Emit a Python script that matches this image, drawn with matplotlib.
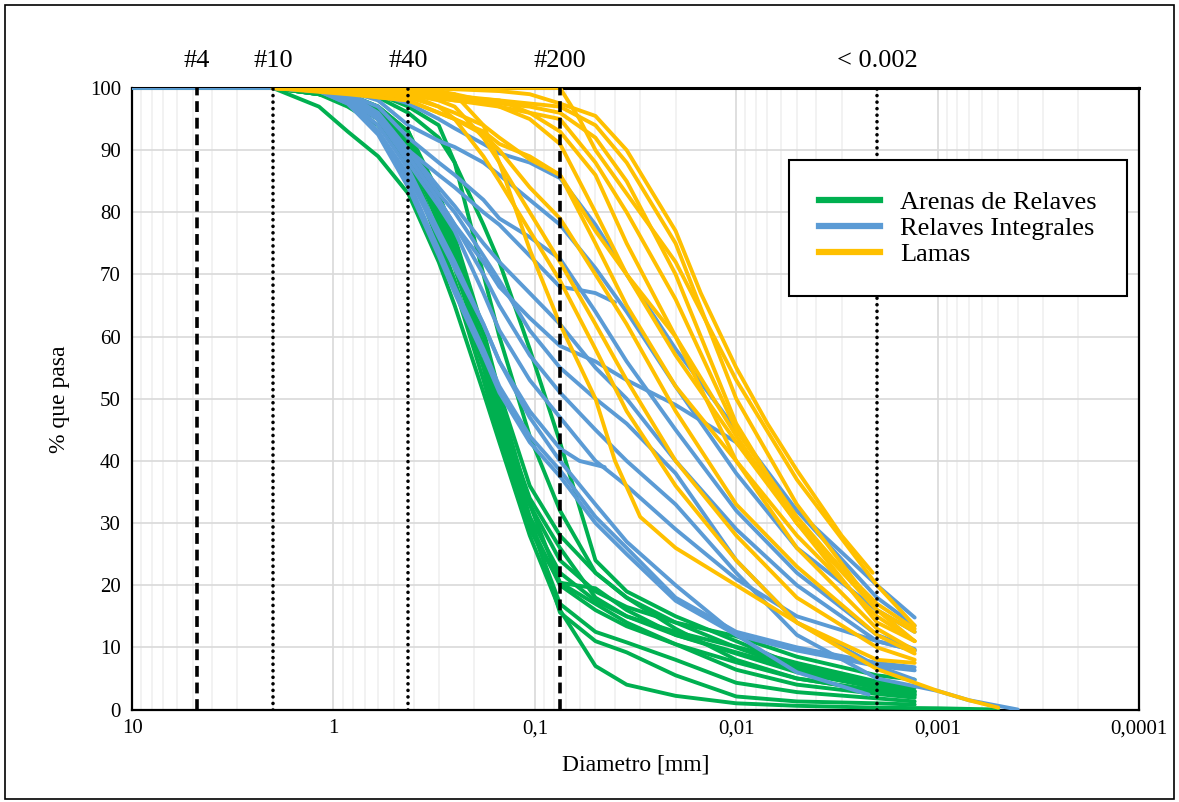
import numpy as np
import matplotlib.pyplot as plt
from matplotlib.patches import Rectangle
from matplotlib.ticker import FixedLocator, LogLocator, NullFormatter

plt.rcParams['font.family'] = ['Liberation Serif', 'DejaVu Serif']

# tamices / hidrometro (mm)
D = [2.0, 1.18, 0.85, 0.6, 0.425, 0.3, 0.25, 0.18, 0.15, 0.106, 0.075,
     0.05, 0.035, 0.02, 0.01, 0.005, 0.002, 0.0013]

# Arenas de relaves
arenas = [
    ([10, 4.75, 2.0, 1.18, 0.85, 0.6, 0.425, 0.3, 0.25, 0.18, 0.15, 0.106, 0.075,
      0.05, 0.035, 0.02, 0.01, 0.005, 0.002, 0.001, 0.0005],
     [100, 100, 100, 97, 93, 89, 83, 72, 65, 51, 43, 28, 16, 7, 4, 2.2, 1, 0.6, 0.3, 0.2, 0]),
    (D, [100, 99, 98, 95, 90, 78, 71, 57, 47, 33, 24, 19, 16.5, 14, 11.8, 8.5, 5.5, 4.8]),
    (D, [100, 99, 98, 95, 89, 76, 69, 55, 45, 31, 22, 17.5, 15, 12.5, 10.1, 7.5, 4.5, 3.5]),
    (D, [100, 99.5, 98.5, 96, 91, 79, 72, 58, 48, 34, 26, 18, 15, 12, 9.2, 6.5, 3.5, 2.9]),
    (D, [100, 99, 97, 94, 88, 75, 68, 53, 44, 30, 20, 16, 13.4, 10.5, 7.6, 5, 3, 2.4]),
    (D, [100, 99.5, 99, 97, 93, 82, 75, 60, 50, 33, 20.4, 17, 14, 10.5, 6.4, 4, 2.5, 1.9]),
    (D, [100, 99, 98, 96, 91, 80, 73, 57, 47, 30, 17, 12.5, 10.8, 8, 4.3, 2.8, 1.8, 1.3]),
    (D, [100, 99.5, 98.5, 96.5, 92, 81, 74, 58, 48, 31, 15.6, 11, 9.2, 5.5, 2.1, 1.3, 1, 0.8]),
    (D, [100, 99, 98, 96, 92, 80, 73, 57, 46, 29, 20.4, 19.5, 16, 12, 9, 6, 3.5, 2.5]),
    (D, [100, 100, 99.5, 98.5, 96, 92, 88, 78, 72, 58, 43, 24, 19, 15, 11, 7, 4, 3]),
    (D, [100, 100, 100, 99, 97, 94, 88, 70, 60, 44, 32, 22, 18, 14, 10, 6.5, 3.6, 2.8]),
    (D, [100, 99.5, 99, 97, 93, 83, 76, 61, 51, 36, 28, 22, 18, 13, 8, 5, 3, 2.2]),
]

# Relaves integrales
integrales = [
    (D, [100, 100, 99.5, 99, 97.5, 95, 93.5, 91, 89.5, 88, 85.5, 78, 70, 58, 45, 32, 20, 14.8]),
    (D, [100, 100, 99.5, 98, 94, 91.5, 90.5, 88, 86, 82, 78, 71, 64, 52, 38, 26, 16, 12.5]),
    (D, [100, 99.8, 99, 97, 92, 88, 86, 82, 79, 76, 72.5, 64, 56, 45, 32, 22, 12, 9.7]),
    ([2.0, 1.18, 0.85, 0.6, 0.425, 0.3, 0.25, 0.18, 0.15, 0.106, 0.075, 0.06, 0.05, 0.04],
     [100, 99.8, 99, 96, 90, 86, 84, 80, 78, 73, 68, 67.5, 67, 65.5]),
    (D, [100, 99.5, 98.5, 95.5, 90, 84, 81, 75, 72, 67, 62, 55, 50, 40, 29, 20, 11, 9.5]),
    (D, [100, 99.5, 98.5, 95, 89, 82, 78, 72, 68, 63, 58.5, 56, 53, 49, 43, 32, 18, 13.5]),
    (D, [100, 99.5, 98, 95, 88, 81, 77, 67, 61, 53, 47, 40, 36, 29, 21, 15, 11, 9.5]),
    ([2.0, 1.18, 0.85, 0.6, 0.425, 0.3, 0.25, 0.18, 0.15, 0.106, 0.075, 0.06, 0.045],
     [100, 99.5, 98, 94, 87, 77, 72, 62, 56, 48, 42, 40, 39]),
    (D, [100, 99.5, 97.5, 93, 85, 74, 68, 58, 52, 44, 38.5, 31, 26, 18, 12.5, 10, 7.5, 6.8]),
    (D, [100, 99.5, 97.5, 92.5, 84, 73, 67, 57, 51, 43, 37.5, 30, 25, 17.5, 12, 9.5, 7, 6.3]),
    (D, [100, 99.5, 98.5, 95, 90, 83, 80, 73, 69, 61, 55, 50, 46, 38, 24, 14, 7, 4.8]),
    ([10, 4.75, 2.0, 1.18, 0.85, 0.6, 0.425, 0.3, 0.25, 0.18, 0.15, 0.106, 0.075,
      0.05, 0.035, 0.02, 0.01, 0.005, 0.002, 0.001, 0.0007, 0.0004],
     [100, 100, 100, 99.5, 98.5, 95, 89, 82, 78, 70, 65, 57, 51, 45, 40, 33, 22, 12, 5, 3, 1.5, 0]),
    ([2.0, 1.18, 0.85, 0.6, 0.425, 0.3, 0.25, 0.18, 0.15, 0.106, 0.075,
      0.05, 0.035, 0.02, 0.01, 0.005, 0.0022],
     [100, 99.5, 98, 93, 86, 76, 71, 62, 56, 47, 40, 33, 27, 20, 12, 6, 2.4]),
]

# Lamas
lamas = [
    ([2.0, 0.85, 0.425, 0.25, 0.15, 0.106, 0.075, 0.05, 0.035, 0.02, 0.015, 0.01, 0.007, 0.005, 0.003, 0.0021],
     [100, 100, 100, 99.8, 99.5, 99, 97.5, 95.5, 90, 77, 67, 55, 46, 38.5, 28, 22]),
    ([2.0, 0.85, 0.425, 0.25, 0.15, 0.106, 0.075, 0.06, 0.05, 0.035, 0.02, 0.01, 0.005, 0.002, 0.0013],
     [100, 100, 100, 100, 100, 100, 100, 95, 90, 83, 72, 53, 37, 20, 13.5]),
    ([2.0, 0.85, 0.425, 0.25, 0.15, 0.106, 0.075, 0.05, 0.035, 0.02, 0.01, 0.005, 0.002, 0.0013],
     [100, 99.5, 99, 98.5, 98, 97.5, 97, 94, 88, 75, 50, 33, 16, 11]),
    ([2.0, 0.85, 0.425, 0.25, 0.15, 0.106, 0.075, 0.05, 0.035, 0.02, 0.01, 0.005, 0.002, 0.0013],
     [100, 99.5, 99, 98, 97.5, 97, 96, 92, 85, 70, 46, 30, 14, 11]),
    ([2.0, 0.425, 0.25, 0.18, 0.15, 0.106, 0.075, 0.05, 0.035, 0.02, 0.01, 0.005, 0.002, 0.0013],
     [100, 99.5, 99, 98, 97, 95, 91, 80, 70, 57, 43, 30, 16, 12.5]),
    ([2.0, 0.85, 0.425, 0.3, 0.25, 0.18, 0.15, 0.106, 0.075, 0.05, 0.035, 0.02, 0.01, 0.005, 0.002, 0.0013],
     [100, 99, 98, 96, 95, 93, 91, 89, 86, 75, 65, 52, 40, 28, 15, 11]),
    ([2.0, 0.85, 0.6, 0.425, 0.3, 0.25, 0.18, 0.15, 0.106, 0.075, 0.05, 0.035, 0.02, 0.01, 0.005, 0.002, 0.0013],
     [100, 99.5, 99, 98.5, 97, 96, 94, 92, 88.5, 86, 77, 70, 60, 44, 30, 17, 13]),
    ([2.0, 0.85, 0.6, 0.425, 0.3, 0.25, 0.18, 0.15, 0.106, 0.075, 0.05, 0.035, 0.02, 0.01, 0.005, 0.002, 0.0013],
     [100, 99.5, 98.5, 98, 96, 95, 92.5, 90, 84, 79, 70, 62, 48, 33, 23, 12, 9]),
    ([2.0, 0.425, 0.3, 0.25, 0.18, 0.15, 0.106, 0.075, 0.05, 0.04, 0.03, 0.02, 0.01, 0.005, 0.002, 0.0013],
     [100, 100, 99.5, 99, 94, 88, 74, 62, 50, 40, 31, 26, 20, 14, 8, 7.5]),
    ([2.0, 0.85, 0.425, 0.3, 0.25, 0.18, 0.15, 0.106, 0.075, 0.05, 0.035, 0.02, 0.01, 0.005, 0.002, 0.0013],
     [100, 99.5, 99, 98, 97, 92, 88, 80, 72, 62, 53, 40, 28, 18, 10, 8]),
    ([2.0, 0.425, 0.3, 0.25, 0.18, 0.15, 0.106, 0.075, 0.05, 0.035, 0.02, 0.01, 0.005, 0.002, 0.001, 0.0007, 0.0005],
     [100, 99, 97, 95, 89, 85, 77, 69, 58, 48, 36, 24, 14, 6.5, 3, 1.5, 0.3]),
    ([2.0, 0.425, 0.25, 0.15, 0.106, 0.075, 0.05, 0.035, 0.02, 0.01, 0.005, 0.0024],
     [100, 99, 98, 97, 96, 95, 88, 80, 66, 45, 31, 19]),
    ([2.0, 0.85, 0.425, 0.3, 0.15, 0.106, 0.075, 0.05, 0.035, 0.02, 0.01, 0.005, 0.002, 0.0013],
     [100, 99.8, 99.5, 99, 98, 96, 93, 86, 75, 60, 40, 26, 13, 9.5]),
]

mallas = ['#4', '#10', '#40', '#200', '< 0.002']
malla_d = [4.75, 2.0, 0.425, 0.075, 0.002]
malla_estilo = ['dashed', 'dotted', 'dotted', 'dashed', 'dotted']

verde = '#00B050'
azul = '#5B9BD5'
amarillo = '#FFC000'

fig = plt.figure(figsize=(11.79, 8.02), dpi=100)
ax = fig.add_axes([0.112, 0.1153, 0.8541, 0.775])

for grupo, col in [(arenas, verde), (integrales, azul), (lamas, amarillo)]:
    for d, p in grupo:
        ax.plot(d, p, color=col, lw=2.8, solid_capstyle='round',
                solid_joinstyle='round', zorder=3)

for m, xd, st in zip(mallas, malla_d, malla_estilo):
    if st == 'dashed':
        ax.axvline(xd, color='black', lw=2.6, ls=(0, (3, 1.6)), zorder=5)
    else:
        ax.axvline(xd, color='black', lw=2.6, ls=(0, (0.01, 1.8)),
                   dash_capstyle='round', zorder=5)
    ax.text(xd, 104.3, m, ha='center', va='center', fontsize=19)

ax.set_xscale('log')
ax.set_xlim(10, 0.0001)
ax.set_ylim(0, 100)
ax.set_yticks(range(0, 101, 10))
ax.xaxis.set_major_locator(FixedLocator([10, 1, 0.1, 0.01, 0.001, 0.0001]))
ax.set_xticklabels(['10', '1', '0,1', '0,01', '0,001', '0,0001'])
ax.xaxis.set_minor_locator(LogLocator(base=10, subs=np.arange(2, 10), numticks=20))
ax.xaxis.set_minor_formatter(NullFormatter())
ax.tick_params(which='both', length=0, labelsize=15)
ax.tick_params(axis='x', pad=7)
ax.tick_params(axis='y', pad=8)

ax.grid(which='major', color='#D9D9D9', lw=1.2, zorder=0)
ax.grid(which='minor', axis='x', color='#F0F0F0', lw=1.2, zorder=0)
ax.set_axisbelow(True)
for s in ax.spines.values():
    s.set_color('black')
    s.set_linewidth(1.6)
ax.spines['top'].set_linewidth(2.2)

ax.set_xlabel('Diametro [mm]', fontsize=17, labelpad=12)
ax.set_ylabel('% que pasa', fontsize=17, labelpad=14)

ax.plot([], [], color=verde, lw=4.5, label='Arenas de Relaves')
ax.plot([], [], color=azul, lw=4.5, label='Relaves Integrales')
ax.plot([], [], color=amarillo, lw=4.5, label='Lamas')
h, l = ax.get_legend_handles_labels()
leg = ax.legend(h[-3:], l[-3:], loc='upper right', bbox_to_anchor=(0.988, 0.884),
                borderaxespad=0, fontsize=19, frameon=True, fancybox=False,
                edgecolor='black', framealpha=1, handlelength=2.3, borderpad=1.15,
                labelspacing=0.1, handletextpad=0.75)
leg.get_frame().set_linewidth(1.5)
leg.set_zorder(10)

fig.patches.append(Rectangle((0.004, 0.004), 0.992, 0.99, transform=fig.transFigure,
                             fill=False, ec='black', lw=1.2))

fig.savefig('out.png', dpi=100)
